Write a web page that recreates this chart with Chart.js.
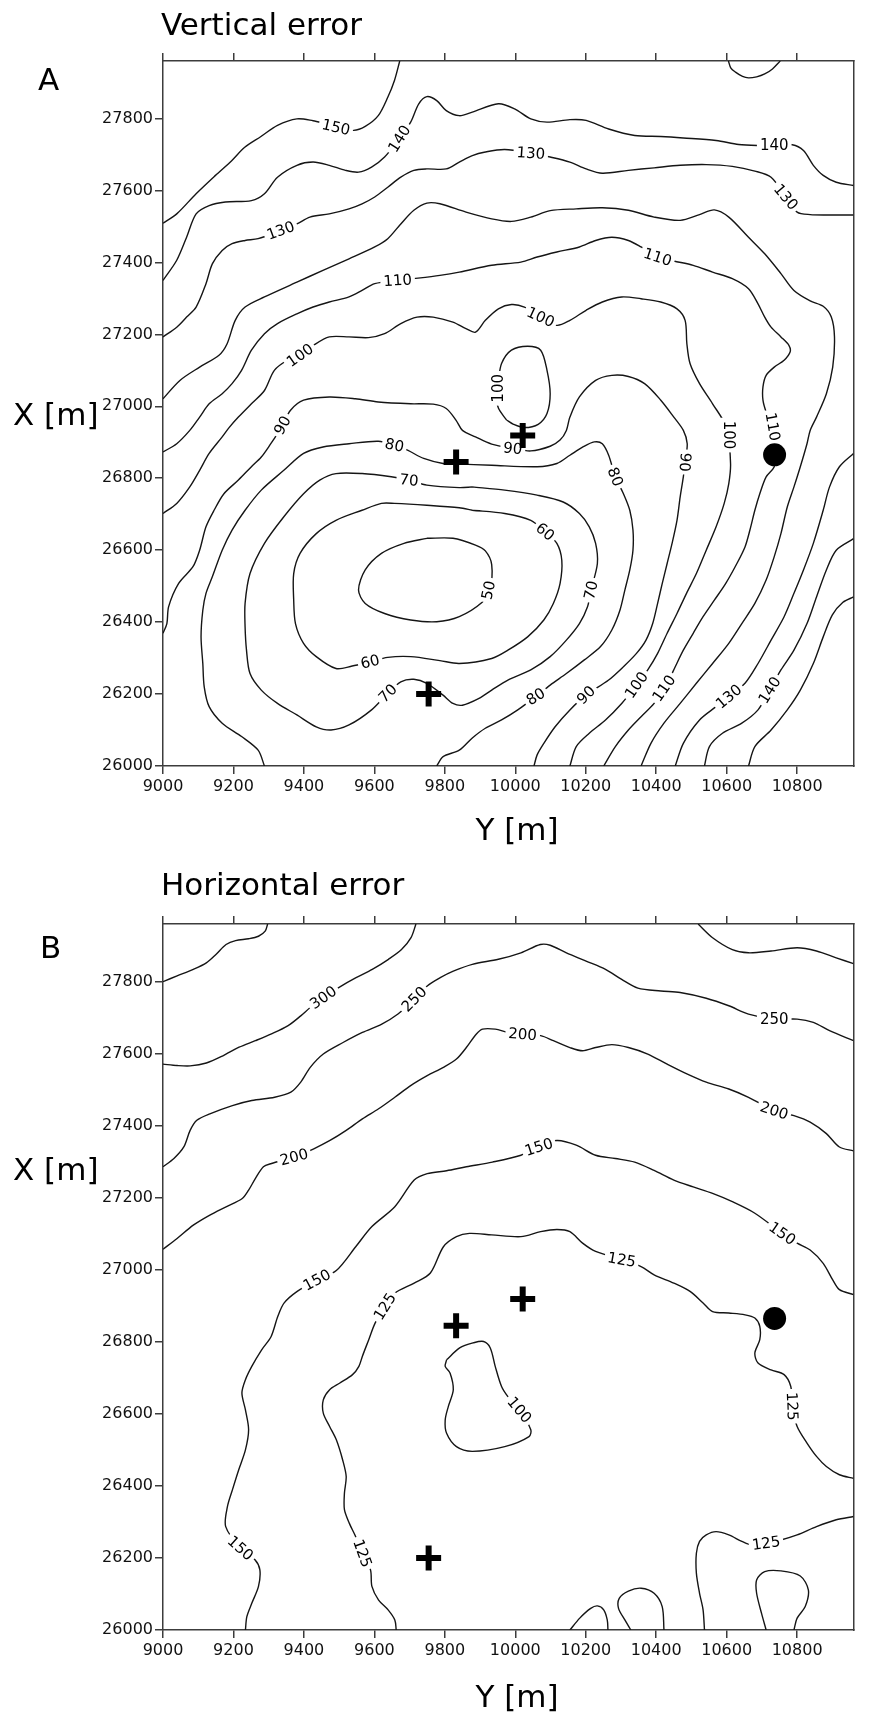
<!DOCTYPE html>
<html>
<head>
<meta charset="utf-8">
<script src="https://cdn.jsdelivr.net/npm/chart.js@4.4.1/dist/chart.umd.min.js"></script>
<style>
  html, body { margin: 0; padding: 0; background: #fff; }
  #wrap { position: relative; width: 872px; height: 1713px; }
  canvas { position: absolute; left: 0; }
  #chartA { top: 0; }
  #chartB { top: 862px; }
</style>
</head>
<body>
<div id="wrap">
  <canvas id="chartA" width="872" height="862"></canvas>
  <canvas id="chartB" width="872" height="851"></canvas>
</div>
<script>
// axes (Y [m] across, X [m] up)
const xTicks = [9000, 9200, 9400, 9600, 9800, 10000, 10200, 10400, 10600, 10800];
const yTicks = [26000, 26200, 26400, 26600, 26800, 27000, 27200, 27400, 27600, 27800];
const xRange = [9000, 10960];
const yRange = [26000, 27960];

// survey points
const crossPts = [[9832, 26845], [9754, 26200], [10021, 26919]];
const dotPts = [[10736, 26865]];

// ---- A: vertical error contours ----
const vert150 = [[9000,27509],[9039,27535],[9094,27591],[9149,27642],[9195,27683],[9232,27720],[9278,27750],[9325,27781],[9380,27799],[9426,27794],[9454,27787],[9491,27776],[9541,27767],[9574,27778],[9611,27808],[9638,27859],[9657,27906],[9672,27960]];
const vert150ne = [[10605,27960],[10612,27940],[10625,27929],[10645,27917],[10662,27913],[10685,27916],[10708,27924],[10730,27938],[10752,27960]];
const vert140 = [[9000,27350],[9039,27406],[9067,27470],[9094,27535],[9131,27558],[9177,27568],[9251,27572],[9288,27591],[9325,27637],[9380,27670],[9426,27679],[9472,27670],[9518,27656],[9555,27651],[9592,27665],[9629,27693],[9671,27744],[9703,27790],[9726,27841],[9749,27861],[9777,27850],[9804,27822],[9841,27808],[9878,27818],[9952,27841],[9998,27827],[10044,27799],[10090,27790],[10155,27797],[10201,27795],[10265,27771],[10339,27753],[10413,27750],[10477,27746],[10570,27739],[10634,27728],[10689,27725],[10735,27725],[10786,27727],[10818,27711],[10846,27670],[10874,27642],[10911,27623],[10960,27614]];
const vert130 = [[9000,27193],[9039,27220],[9067,27248],[9094,27276],[9122,27341],[9140,27396],[9168,27433],[9196,27452],[9233,27461],[9270,27466],[9334,27489],[9380,27507],[9417,27526],[9472,27535],[9528,27549],[9565,27563],[9601,27582],[9638,27609],[9675,27637],[9712,27656],[9749,27660],[9804,27660],[9841,27679],[9878,27697],[9915,27707],[9970,27714],[10044,27704],[10099,27693],[10155,27679],[10201,27660],[10247,27648],[10321,27656],[10394,27663],[10468,27670],[10542,27672],[10616,27667],[10680,27654],[10726,27637],[10768,27582],[10800,27540],[10837,27533],[10892,27532],[10960,27532]];
const vert120 = [[9000,27021],[9048,27072],[9104,27109],[9159,27142],[9182,27174],[9205,27239],[9233,27276],[9288,27304],[9380,27345],[9454,27378],[9528,27410],[9601,27443],[9638,27466],[9675,27507],[9712,27545],[9749,27565],[9786,27563],[9860,27540],[9933,27521],[9989,27514],[10044,27526],[10099,27544],[10173,27549],[10247,27552],[10321,27545],[10394,27526],[10468,27517],[10523,27533],[10565,27546],[10606,27526],[10662,27470],[10708,27424],[10754,27369],[10791,27322],[10837,27293],[10874,27278],[10897,27248],[10906,27193],[10901,27109],[10883,27035],[10855,26970],[10837,26933],[10828,26896],[10809,26832],[10791,26776],[10772,26720],[10754,26646],[10735,26582],[10712,26517],[10680,26452],[10643,26396],[10606,26341],[10560,26285],[10514,26230],[10468,26174],[10422,26119],[10385,26063],[10357,26000]];
const vert110 = [[9000,26873],[9039,26896],[9076,26933],[9104,26970],[9131,27007],[9168,27035],[9196,27063],[9223,27100],[9251,27156],[9288,27202],[9325,27230],[9380,27257],[9426,27276],[9472,27290],[9528,27304],[9565,27322],[9601,27341],[9666,27350],[9712,27355],[9786,27364],[9841,27373],[9933,27392],[10016,27401],[10062,27415],[10118,27429],[10182,27443],[10228,27461],[10274,27470],[10321,27461],[10357,27443],[10404,27415],[10450,27404],[10505,27392],[10560,27373],[10616,27355],[10662,27327],[10689,27285],[10708,27248],[10726,27220],[10754,27193],[10777,27169],[10780,27151],[10763,27128],[10735,27109],[10712,27086],[10703,27054],[10703,27017],[10712,26984],[10726,26952],[10735,26901],[10735,26864],[10735,26832],[10712,26804],[10694,26757],[10680,26711],[10666,26656],[10652,26609],[10629,26563],[10597,26507],[10565,26461],[10533,26415],[10505,26369],[10477,26322],[10454,26276],[10436,26239],[10422,26216],[10394,26174],[10357,26137],[10321,26100],[10284,26054],[10251,26000]];
const vert100 = [[9000,26702],[9039,26730],[9076,26776],[9104,26822],[9131,26869],[9168,26915],[9187,26940],[9214,26970],[9251,27007],[9288,27044],[9316,27100],[9353,27128],[9389,27142],[9426,27169],[9472,27193],[9528,27193],[9583,27191],[9629,27202],[9675,27230],[9721,27248],[9767,27248],[9823,27234],[9860,27216],[9887,27206],[9915,27239],[9952,27271],[9989,27283],[10026,27276],[10072,27248],[10118,27225],[10155,27239],[10201,27267],[10247,27290],[10302,27304],[10357,27299],[10413,27290],[10459,27271],[10482,27239],[10487,27174],[10496,27119],[10523,27063],[10560,27007],[10600,26940],[10611,26841],[10606,26785],[10593,26730],[10570,26665],[10542,26600],[10514,26535],[10486,26480],[10459,26424],[10431,26369],[10404,26313],[10376,26267],[10344,26225],[10302,26174],[10256,26128],[10210,26091],[10173,26054],[10155,26000]];
const vert100loop = [[9975,26962],[9952,26995],[9947,27030],[9952,27070],[9961,27119],[9989,27156],[10035,27167],[10072,27156],[10090,27100],[10099,27035],[10090,26980],[10065,26950],[10026,26941],[9995,26950],[9975,26962]];
const vert90 = [[9000,26369],[9011,26396],[9016,26443],[9044,26507],[9085,26554],[9104,26600],[9122,26665],[9145,26711],[9173,26757],[9214,26795],[9251,26832],[9279,26859],[9306,26896],[9325,26924],[9339,26947],[9362,26989],[9399,27017],[9472,27026],[9546,27021],[9611,27012],[9703,27007],[9767,27006],[9804,26994],[9832,26961],[9850,26933],[9887,26915],[9933,26895],[9993,26883],[10044,26876],[10099,26889],[10127,26906],[10145,26933],[10155,26970],[10182,27026],[10228,27072],[10274,27086],[10321,27083],[10367,27063],[10413,27017],[10450,26970],[10477,26933],[10488,26896],[10482,26845],[10477,26804],[10468,26748],[10459,26683],[10445,26619],[10431,26563],[10417,26507],[10404,26452],[10390,26396],[10371,26350],[10344,26313],[10307,26276],[10265,26239],[10201,26197],[10155,26156],[10113,26109],[10081,26063],[10062,26031],[10053,26000]];
const vert80 = [[9288,26000],[9270,26044],[9223,26082],[9168,26119],[9131,26165],[9117,26220],[9113,26285],[9108,26359],[9113,26433],[9122,26480],[9140,26526],[9168,26600],[9196,26656],[9233,26711],[9279,26767],[9343,26822],[9399,26869],[9454,26887],[9528,26896],[9611,26903],[9657,26892],[9694,26878],[9740,26855],[9795,26841],[9832,26840],[9933,26836],[10062,26832],[10118,26841],[10155,26864],[10192,26887],[10224,26901],[10247,26896],[10265,26864],[10284,26804],[10307,26757],[10325,26711],[10334,26656],[10334,26600],[10325,26545],[10311,26489],[10297,26433],[10274,26378],[10242,26332],[10196,26295],[10145,26257],[10099,26225],[10058,26193],[10007,26156],[9961,26128],[9915,26105],[9878,26078],[9841,26044],[9795,26026],[9777,26000]];
const vert70 = [[9878,26776],[9970,26767],[10062,26753],[10136,26734],[10182,26702],[10210,26665],[10228,26619],[10233,26563],[10215,26489],[10205,26443],[10182,26396],[10145,26350],[10099,26304],[10044,26267],[9979,26239],[9933,26211],[9897,26188],[9850,26169],[9823,26174],[9795,26197],[9749,26230],[9712,26241],[9675,26234],[9638,26202],[9592,26156],[9528,26114],[9477,26100],[9435,26109],[9380,26142],[9325,26174],[9279,26211],[9247,26257],[9237,26322],[9233,26387],[9233,26452],[9247,26535],[9288,26619],[9343,26693],[9399,26757],[9445,26795],[9491,26813],[9565,26813],[9648,26804],[9698,26795],[9749,26781],[9841,26774],[9878,26776]];
const vert60 = [[9878,26711],[9970,26702],[10044,26683],[10085,26651],[10118,26619],[10132,26572],[10127,26507],[10108,26452],[10081,26406],[10035,26359],[9979,26322],[9933,26299],[9841,26285],[9786,26293],[9703,26304],[9638,26302],[9588,26290],[9537,26278],[9491,26271],[9435,26304],[9399,26341],[9376,26396],[9371,26461],[9371,26535],[9389,26591],[9435,26646],[9491,26683],[9565,26711],[9620,26730],[9657,26730],[9749,26725],[9841,26718],[9878,26711]];
const vert50 = [[9749,26633],[9823,26633],[9887,26614],[9915,26598],[9933,26560],[9928,26490],[9906,26455],[9841,26415],[9777,26401],[9703,26406],[9629,26424],[9574,26452],[9555,26489],[9574,26545],[9620,26591],[9684,26619],[9749,26633]];
const vert130se = [[10454,26000],[10477,26063],[10523,26128],[10570,26165],[10606,26193],[10652,26230],[10689,26285],[10726,26350],[10763,26415],[10791,26480],[10818,26545],[10846,26619],[10874,26711],[10892,26776],[10920,26832],[10960,26869]];
const vert140se = [[10537,26000],[10551,26054],[10588,26091],[10643,26119],[10689,26156],[10722,26211],[10754,26267],[10791,26322],[10828,26396],[10855,26470],[10883,26545],[10911,26600],[10960,26632]];
const vert150se = [[10662,26000],[10680,26054],[10726,26100],[10772,26156],[10809,26211],[10846,26285],[10874,26359],[10900,26420],[10930,26455],[10960,26470]];

// label text, Y, X, angle
const vertLabels = [
  ['150',9491,27776,13],['140',9671,27744,-58],['140',10735,27725,0],
  ['130',9334,27489,-20],['130',10044,27704,4],['130',10768,27582,50],
  ['110',9666,27350,-4],['110',10404,27415,18],['100',9389,27142,-35],
  ['100',10072,27248,25],['100',9950,27050,-90],['90',9339,26947,-62],
  ['90',9993,26883,6],['110',10731,26943,80],['100',10606,26920,90],
  ['90',10482,26845,95],['80',9657,26892,12],['80',10284,26804,68],
  ['70',9698,26795,6],['70',9638,26202,-45],['70',10215,26489,-78],
  ['60',9588,26290,-14],['60',10085,26651,40],['50',9924,26489,-78],
  ['80',10058,26193,-32],['90',10201,26197,-45],['100',10344,26225,-55],
  ['110',10422,26216,-55],['130',10606,26193,-40],['140',10722,26211,-58]
];

// ---- B: horizontal error contours ----
const horiz350 = [[9000,27800],[9040,27816],[9086,27834],[9123,27852],[9151,27876],[9179,27903],[9206,27914],[9243,27919],[9271,27926],[9290,27940],[9297,27960]];
const horiz300 = [[9000,27571],[9040,27567],[9077,27566],[9123,27574],[9170,27594],[9216,27618],[9262,27636],[9308,27655],[9354,27677],[9391,27705],[9418,27728],[9455,27756],[9501,27785],[9548,27811],[9594,27834],[9640,27862],[9677,27889],[9704,27922],[9718,27960]];
const horiz300ne = [[10519,27960],[10560,27922],[10616,27889],[10662,27880],[10726,27885],[10800,27894],[10855,27885],[10911,27866],[10960,27850]];
const horiz250 = [[9000,27286],[9031,27309],[9059,27341],[9077,27387],[9096,27415],[9133,27433],[9197,27456],[9252,27470],[9317,27479],[9363,27493],[9391,27521],[9418,27562],[9455,27599],[9511,27631],[9566,27659],[9621,27682],[9667,27710],[9713,27751],[9750,27788],[9787,27811],[9824,27829],[9878,27848],[9952,27862],[10016,27880],[10071,27903],[10099,27901],[10145,27880],[10201,27857],[10256,27834],[10302,27806],[10348,27782],[10413,27774],[10468,27770],[10542,27754],[10606,27733],[10662,27710],[10735,27696],[10800,27696],[10846,27687],[10892,27664],[10960,27636]];
const horiz200 = [[9000,27057],[9040,27087],[9086,27124],[9133,27152],[9179,27175],[9225,27198],[9243,27221],[9262,27253],[9285,27286],[9308,27295],[9372,27313],[9428,27336],[9474,27359],[9520,27387],[9566,27419],[9612,27447],[9658,27479],[9704,27512],[9750,27539],[9796,27562],[9833,27585],[9861,27617],[9889,27654],[9907,27668],[9943,27668],[9979,27659],[10021,27654],[10072,27650],[10108,27636],[10155,27617],[10191,27608],[10228,27617],[10274,27625],[10321,27617],[10376,27599],[10431,27571],[10487,27544],[10542,27521],[10606,27502],[10662,27479],[10735,27442],[10791,27428],[10837,27410],[10883,27378],[10920,27341],[10960,27330]];
const horiz150 = [[9234,26000],[9238,26037],[9252,26074],[9271,26121],[9275,26167],[9261,26195],[9220,26227],[9178,26287],[9183,26343],[9197,26389],[9215,26445],[9234,26500],[9243,26556],[9234,26611],[9224,26658],[9234,26695],[9252,26732],[9280,26778],[9307,26815],[9326,26871],[9344,26908],[9381,26940],[9437,26972],[9492,26998],[9547,27064],[9593,27120],[9658,27175],[9713,27249],[9750,27267],[9805,27275],[9861,27286],[9935,27299],[10016,27318],[10067,27341],[10118,27359],[10173,27346],[10228,27318],[10284,27309],[10339,27299],[10394,27276],[10450,27249],[10505,27230],[10560,27212],[10616,27189],[10680,27157],[10758,27101],[10800,27074],[10837,27055],[10874,27018],[10901,26972],[10920,26945],[10960,26931]];
const horiz125 = [[9662,26000],[9658,26028],[9639,26056],[9612,26083],[9593,26121],[9589,26167],[9566,26213],[9547,26259],[9529,26296],[9515,26334],[9515,26380],[9520,26426],[9510,26472],[9492,26528],[9473,26565],[9455,26602],[9455,26639],[9473,26667],[9501,26685],[9538,26709],[9556,26732],[9566,26760],[9584,26806],[9602,26852],[9630,26898],[9658,26935],[9713,26963],[9759,26991],[9796,27064],[9833,27092],[9870,27101],[9933,27097],[10016,27092],[10072,27106],[10118,27112],[10155,27106],[10191,27074],[10228,27051],[10302,27028],[10357,27009],[10394,26986],[10450,26963],[10496,26940],[10533,26908],[10560,26884],[10606,26880],[10652,26875],[10680,26866],[10694,26843],[10694,26806],[10680,26769],[10689,26741],[10726,26722],[10763,26709],[10782,26676],[10786,26621],[10800,26565],[10828,26519],[10855,26482],[10883,26454],[10920,26431],[10960,26421]];
const horiz125se = [[10960,26315],[10911,26306],[10855,26287],[10800,26264],[10754,26250],[10712,26241],[10671,26236],[10643,26246],[10606,26264],[10570,26273],[10542,26264],[10523,26246],[10514,26213],[10514,26158],[10523,26102],[10533,26056],[10537,26000]];
const horizBump1 = [[10155,26000],[10183,26033],[10214,26060],[10233,26067],[10251,26056],[10261,26028],[10263,26000]];
const horizBump2 = [[10328,26000],[10311,26028],[10293,26060],[10295,26088],[10321,26108],[10357,26116],[10394,26102],[10417,26065],[10422,26000]];
const horizBump3 = [[10712,26000],[10699,26046],[10685,26102],[10685,26139],[10708,26162],[10754,26164],[10809,26150],[10832,26111],[10823,26065],[10800,26033],[10791,26000]];
const horiz100 = [[9805,26750],[9842,26783],[9880,26797],[9910,26801],[9929,26783],[9943,26732],[9961,26676],[9979,26648],[10012,26611],[10044,26556],[10039,26537],[9970,26509],[9878,26496],[9833,26509],[9805,26546],[9801,26583],[9810,26621],[9824,26667],[9815,26713],[9801,26732],[9805,26750]];

const horizLabels = [
  ['300',9455,27756,-35],['250',9713,27751,-45],['250',10735,27696,0],
  ['200',9372,27313,-15],['200',10021,27654,4],['200',10735,27442,18],
  ['150',10067,27341,-18],['150',10758,27101,35],['150',9437,26972,-28],
  ['150',9220,26227,42],['125',9630,26898,-58],['125',10302,27028,10],
  ['125',9566,26213,70],['125',10786,26621,88],['125',10712,26241,-8],
  ['100',10012,26611,50]
];

const vertLines = [vert150, vert150ne, vert140, vert130, vert120, vert110, vert100, vert100loop, vert90, vert80, vert70, vert60, vert50, vert130se, vert140se, vert150se];
const horizLines = [horiz350, horiz300, horiz300ne, horiz250, horiz200, horiz150, horiz125, horiz125se, horizBump1, horizBump2, horizBump3, horiz100];

const FONT = 'DejaVu Sans';
const INK = '#151515';
const AXIS = '#3c3c3c';

const toXY = pts => pts.map(p => ({x: p[0], y: p[1]}));

function buildDatasets(lines){
  const sets = [
    {data: toXY(crossPts), pointStyle: 'cross', pointRadius: 12.5, pointBorderWidth: 6,
     pointBorderColor: '#000', showLine: false},
    {data: toXY(dotPts), pointStyle: 'circle', pointRadius: 11.5, pointBorderWidth: 0,
     pointBackgroundColor: '#000', showLine: false}
  ];
  lines.forEach(l => sets.push({
    data: toXY(l), showLine: true, borderColor: INK, borderWidth: 1.4,
    pointRadius: 0, tension: 0.3, fill: false
  }));
  return sets;
}

// contour labels drawn once the last line is down, before the markers
function labelPlugin(items){
  return {
    id: 'contourLabels',
    afterDatasetDraw(chart, args){
      if (args.index !== 2) return;
      const {ctx, scales: {x, y}} = chart;
      ctx.save();
      ctx.font = '15px "' + FONT + '"';
      ctx.textAlign = 'center';
      ctx.textBaseline = 'middle';
      items.forEach(([t, h, v, a]) => {
        ctx.save();
        ctx.translate(x.getPixelForValue(h), y.getPixelForValue(v));
        ctx.rotate(a * Math.PI / 180);
        const w = ctx.measureText(t).width + 6;
        ctx.fillStyle = '#fff';
        ctx.fillRect(-w / 2, -8, w, 16);
        ctx.fillStyle = '#000';
        ctx.fillText(t, 0, 1);
        ctx.restore();
      });
      ctx.restore();
    }
  };
}

function textPlugin(items){
  return {
    id: 'panelText',
    afterDraw(chart){
      const ctx = chart.ctx;
      ctx.save();
      ctx.fillStyle = '#000';
      ctx.textBaseline = 'alphabetic';
      items.forEach(([t, px, py, size, align]) => {
        ctx.font = size + 'px "' + FONT + '"';
        ctx.textAlign = align || 'left';
        ctx.fillText(t, px, py);
      });
      ctx.restore();
    }
  };
}

function setTicks(list){ return s => { s.ticks = list.map(v => ({value: v})); }; }

function makeScales(topH, bottomH){
  const grid = {drawOnChartArea: false, tickLength: 8, color: AXIS, lineWidth: 1.5};
  const border = {display: true, color: AXIS, width: 1.5};
  const tickFont = {family: FONT, size: 16};
  return {
    x: {type: 'linear', position: 'bottom', min: xRange[0], max: xRange[1],
        afterBuildTicks: setTicks(xTicks),
        ticks: {font: tickFont, color: '#111', padding: 3, maxRotation: 0, autoSkip: false, callback: v => String(v)},
        grid, border, afterFit: s => { s.height = bottomH; }},
    x2: {type: 'linear', position: 'top', min: xRange[0], max: xRange[1],
        afterBuildTicks: setTicks(xTicks), ticks: {display: false},
        grid, border, afterFit: s => { s.height = topH; }},
    y: {type: 'linear', position: 'left', min: yRange[0], max: yRange[1],
        afterBuildTicks: setTicks(yTicks),
        ticks: {font: tickFont, color: '#111', padding: 2, autoSkip: false, callback: v => String(v)},
        grid, border, afterFit: s => { s.width = 163; }},
    y2: {type: 'linear', position: 'right', min: yRange[0], max: yRange[1],
        ticks: {display: false}, grid: {drawOnChartArea: false, drawTicks: false},
        border, afterFit: s => { s.width = 1; }}
  };
}

function panel(id, lines, labels, texts, topH, bottomH){
  new Chart(document.getElementById(id), {
    type: 'scatter',
    data: {datasets: buildDatasets(lines)},
    options: {
      responsive: false, animation: false, events: [],
      layout: {padding: 0},
      plugins: {legend: {display: false}, tooltip: {enabled: false}},
      scales: makeScales(topH, bottomH)
    },
    plugins: [labelPlugin(labels), textPlugin(texts)]
  });
}

panel('chartA', vertLines, vertLabels, [
  ['Vertical error', 161, 35, 31], ['A', 38, 90, 31],
  ['X [m]', 13, 425, 31], ['Y [m]', 517, 840, 31, 'center']
], 61, 96);

panel('chartB', horizLines, horizLabels, [
  ['Horizontal error', 161, 33, 31], ['B', 40, 96, 31],
  ['X [m]', 13, 318, 31], ['Y [m]', 517, 845, 31, 'center']
], 62, 83);
</script>
</body>
</html>
